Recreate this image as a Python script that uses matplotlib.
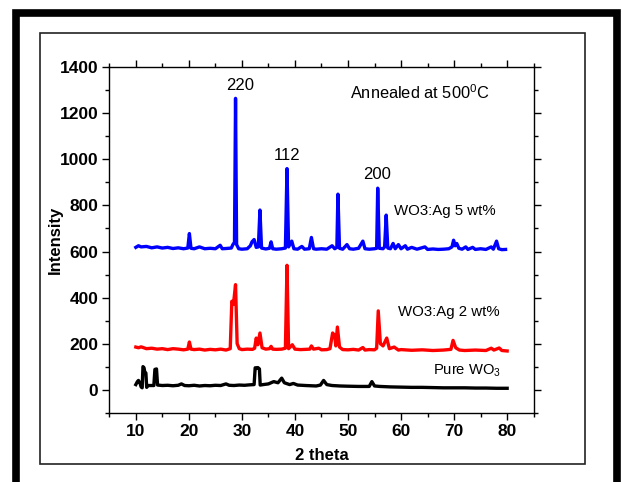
import matplotlib
matplotlib.use("Agg")
import matplotlib.pyplot as plt
from matplotlib.patches import Rectangle
from matplotlib.ticker import MultipleLocator

plt.rcParams['font.family'] = ['Liberation Sans', 'DejaVu Sans']
plt.rcParams['mathtext.fontset'] = 'custom'
plt.rcParams['mathtext.rm'] = 'Liberation Sans'

# pure WO3 (black)
pure_x = [10.0, 10.3, 10.5, 10.8, 11.0, 11.2, 11.35, 11.55, 11.7, 11.9, 12.05, 12.3,
          13.4, 13.6, 13.9, 14.1, 15.0, 16.0, 17.0, 18.0, 18.6, 19.2, 20.0, 21.0,
          22.0, 23.0, 24.0, 25.0, 26.0, 27.0, 27.6, 28.5, 29.5, 30.5, 31.5, 32.3,
          32.5, 32.7, 33.0, 33.3, 33.45, 34.0, 35.0, 36.0, 36.8, 37.5, 38.0, 39.0,
          39.7, 40.5, 42.0, 44.0, 44.8, 45.4, 46.0, 47.0, 48.5, 50.0, 52.0, 54.0,
          54.5, 55.0, 56.0, 58.0, 60.0, 62.0, 64.0, 66.0, 68.0, 70.0, 72.0, 74.0,
          76.0, 78.0, 80.0]
pure_y = [22, 35, 40, 28, 12, 8, 100, 95, 75, 72, 10, 18,
          18, 88, 90, 20, 18, 19, 17, 19, 25, 18, 17, 19,
          16, 18, 17, 19, 18, 25, 19, 18, 20, 19, 21, 22,
          95, 92, 96, 90, 20, 22, 25, 35, 30, 50, 30, 22,
          27, 20, 18, 16, 20, 40, 22, 18, 16, 15, 14, 14,
          35, 16, 14, 12, 11, 10, 10, 9, 8, 8, 8, 7,
          7, 6, 6]

# WO3:Ag 2 wt% (red)
ag2_x = [10.0, 10.5, 11.0, 12.0, 13.0, 14.0, 15.0, 16.0, 17.0, 18.0, 19.0, 19.8,
         20.1, 20.4, 21.0, 22.0, 23.0, 24.0, 25.0, 26.0, 27.0, 27.8, 28.1, 28.4,
         28.8, 29.1, 29.5, 30.0, 31.0, 32.0, 32.4, 32.7, 33.0, 33.4, 33.8, 34.5,
         35.2, 35.5, 35.8, 36.5, 37.5, 38.2, 38.5, 38.8, 39.5, 40.0, 41.0, 42.0,
         42.8, 43.1, 43.5, 44.5, 45.0, 46.0, 46.6, 47.1, 47.5, 47.7, 48.0, 48.4,
         49.0, 50.0, 51.0, 52.0, 52.8, 53.2, 54.0, 55.0, 55.4, 55.7, 56.1, 56.6,
         57.3, 57.8, 58.7, 59.5, 60.0, 62.0, 64.0, 66.0, 68.0, 69.4, 69.8, 70.3,
         71.0, 72.0, 74.0, 76.0, 77.0, 77.5, 78.5, 79.0, 80.0]
ag2_y = [185, 182, 186, 178, 180, 176, 178, 174, 178, 176, 173, 176,
         207, 176, 174, 176, 172, 175, 173, 176, 172, 178, 384, 370,
         456, 200, 178, 174, 176, 175, 180, 224, 195, 246, 182, 176,
         178, 188, 176, 175, 176, 180, 540, 178, 195, 176, 174, 175,
         176, 190, 176, 180, 173, 174, 178, 246, 235, 190, 272, 185,
         174, 173, 175, 172, 183, 172, 174, 173, 180, 342, 200, 190,
         224, 178, 185, 172, 174, 171, 173, 170, 172, 175, 214, 182,
         172, 170, 172, 170, 180, 172, 181, 170, 168]

# WO3:Ag 5 wt% (blue)
ag5_x = [10.0, 10.5, 11.0, 12.0, 13.0, 14.0, 15.0, 16.0, 17.0, 18.0, 19.0, 19.8,
         20.1, 20.4, 21.0, 22.0, 23.0, 24.0, 25.0, 25.9, 26.3, 27.0, 28.0, 28.3,
         28.6, 28.8, 29.0, 29.4, 30.0, 31.0, 31.6, 31.9, 32.3, 32.7, 33.1, 33.4,
         33.7, 34.5, 35.2, 35.5, 35.8, 36.5, 37.5, 38.2, 38.5, 38.8, 39.4, 39.8,
         40.5, 41.3, 41.8, 42.7, 43.1, 43.5, 44.0, 45.0, 46.0, 47.0, 47.5, 47.9,
         48.1, 48.4, 49.0, 49.8, 50.3, 51.0, 52.0, 52.8, 53.2, 54.0, 55.0, 55.4,
         55.6, 55.9, 56.6, 56.9, 57.2, 57.5, 58.0, 58.5, 58.9, 59.5, 60.0, 60.8,
         61.2, 62.0, 63.0, 64.5, 65.0, 66.0, 67.0, 68.0, 69.0, 69.6, 69.9, 70.2,
         70.5, 70.9, 71.5, 72.2, 72.6, 73.5, 74.0, 75.0, 76.0, 77.0, 77.4, 78.0,
         78.4, 79.0, 79.7]
ag5_y = [618, 625, 620, 622, 616, 620, 615, 618, 613, 616, 612, 615,
         678, 614, 612, 620, 612, 614, 612, 627, 612, 613, 615, 630,
         640, 1265, 630, 612, 610, 612, 625, 642, 652, 618, 620, 780,
         615, 611, 614, 642, 612, 610, 612, 615, 960, 620, 645, 612,
         610, 622, 610, 612, 661, 612, 610, 612, 610, 625, 612, 618,
         849, 614, 610, 630, 612, 610, 614, 645, 612, 610, 612, 614,
         875, 614, 612, 620, 758, 615, 612, 635, 612, 630, 612, 625,
         610, 618, 610, 620, 609, 611, 609, 610, 612, 620, 649, 625,
         635, 614, 610, 620, 609, 618, 609, 612, 609, 620, 610, 645,
         612, 608, 609]

fig = plt.figure(figsize=(6.22, 4.82), dpi=100)
ax = fig.add_axes([0.1757, 0.1438, 0.6823, 0.7166])

ax.plot(pure_x, pure_y, color='black', lw=2.4)
ax.plot(ag2_x, ag2_y, color='#ff0000', lw=2.4)
ax.plot(ag5_x, ag5_y, color='#0000ff', lw=2.4)

ax.set_xlim(5, 85)
ax.set_ylim(-100, 1400)
ax.xaxis.set_major_locator(MultipleLocator(10))
ax.xaxis.set_minor_locator(MultipleLocator(5))
ax.yaxis.set_major_locator(MultipleLocator(200))
ax.yaxis.set_minor_locator(MultipleLocator(100))
ax.set_xticks(range(10, 81, 10))
ax.set_yticks(range(0, 1401, 200))
ax.tick_params(which='both', direction='out', top=True, right=True, width=1)
ax.tick_params(which='major', length=5, labelsize=12.5, pad=3)
ax.tick_params(which='minor', length=3)
for lab in ax.get_xticklabels() + ax.get_yticklabels():
    lab.set_fontweight('bold')
for s in ax.spines.values():
    s.set_linewidth(1)

ax.set_xlabel('2 theta', fontsize=12, fontweight='bold')
ax.set_ylabel('Intensity', fontsize=12, fontweight='bold')
ax.xaxis.set_label_coords(0.5, -0.103)
ax.yaxis.set_label_coords(-0.110, 0.5)

ax.text(29.6, 1290, '220', fontsize=12, ha='center', va='bottom')
ax.text(38.5, 985, '112', fontsize=12, ha='center', va='bottom')
ax.text(55.5, 902, '200', fontsize=12, ha='center', va='bottom')
ax.text(50.4, 1250, 'Annealed at 500$^{0}$C', fontsize=11.8, ha='left', va='bottom')
ax.text(58.7, 776, 'WO3:Ag 5 wt%', fontsize=10.8, ha='left', va='center')
ax.text(59.4, 337, 'WO3:Ag 2 wt%', fontsize=10.8, ha='left', va='center')
ax.text(66.0, 84, 'Pure WO$_{3}$', fontsize=10.6, ha='left', va='center')

# outer thick border (bottom edge runs off the canvas) and inner thin frame
W, H = 622, 482
fig.add_artist(Rectangle((16 / W, -10 / H), (617 - 16) / W, (482 - 13 + 10) / H,
                         transform=fig.transFigure, fill=False,
                         edgecolor='black', lw=5.5))
fig.add_artist(Rectangle((39.5 / W, (H - 464) / H), (584.5 - 39.5) / W, (464 - 33) / H,
                         transform=fig.transFigure, fill=False,
                         edgecolor='#222222', lw=1.2))

fig.savefig('out.png', dpi=100)
